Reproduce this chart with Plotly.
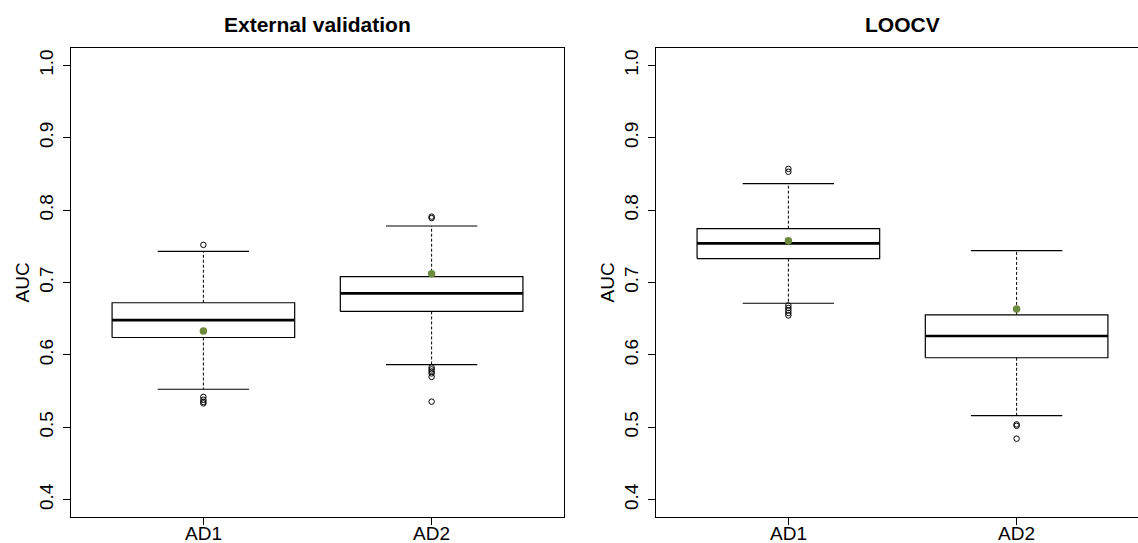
import plotly.graph_objects as go

# ---------------- data ----------------
categories = ["AD1", "AD2"]
panel_titles = ["External validation", "LOOCV"]
y_ticks = [0.4, 0.5, 0.6, 0.7, 0.8, 0.9, 1.0]
y_tick_labels = ["0.4", "0.5", "0.6", "0.7", "0.8", "0.9", "1.0"]

# External validation
ext_q1 = [0.624, 0.660]
ext_median = [0.648, 0.685]
ext_q3 = [0.672, 0.708]
ext_lower = [0.5525, 0.5865]
ext_upper = [0.743, 0.778]
ext_mean = [0.633, 0.712]
ext_outliers_ad1 = [0.752, 0.542, 0.538, 0.535, 0.533]
ext_outliers_ad2 = [0.791, 0.789, 0.5826, 0.5799, 0.5771, 0.5744, 0.5696, 0.5354]

# LOOCV
loo_q1 = [0.733, 0.596]
loo_median = [0.754, 0.626]
loo_q3 = [0.7744, 0.6552]
loo_lower = [0.6713, 0.516]
loo_upper = [0.8366, 0.744]
loo_mean = [0.7578, 0.6634]
loo_outliers_ad1 = [0.857, 0.853, 0.6683, 0.6648, 0.6614, 0.6579, 0.6545]
loo_outliers_ad2 = [0.504, 0.502, 0.4842]

panels = [
    dict(q1=ext_q1, med=ext_median, q3=ext_q3, lo=ext_lower, hi=ext_upper,
         mean=ext_mean, out=[ext_outliers_ad1, ext_outliers_ad2]),
    dict(q1=loo_q1, med=loo_median, q3=loo_q3, lo=loo_lower, hi=loo_upper,
         mean=loo_mean, out=[loo_outliers_ad1, loo_outliers_ad2]),
]

# ---------------- styling ----------------
W, H = 1138, 543
FONT = "Liberation Sans, Arial, Helvetica, sans-serif"
MEAN_COLOR = "#6E8B3D"
BOX_HALF = 0.4
CAP_HALF = 0.2

fig = go.Figure()

for p, panel in enumerate(panels):
    xa = "x" if p == 0 else "x2"
    ya = "y" if p == 0 else "y2"
    for i, cat in enumerate(categories):
        xc = i + 1
        # whiskers (dashed)
        fig.add_trace(go.Scatter(
            x=[xc, xc, None, xc, xc],
            y=[panel["q3"][i], panel["hi"][i], None, panel["q1"][i], panel["lo"][i]],
            mode="lines", line=dict(color="black", width=1, dash="3px,2px"),
            xaxis=xa, yaxis=ya, showlegend=False, hoverinfo="skip"))
        # caps
        fig.add_trace(go.Scatter(
            x=[xc - CAP_HALF, xc + CAP_HALF, None, xc - CAP_HALF, xc + CAP_HALF],
            y=[panel["hi"][i], panel["hi"][i], None, panel["lo"][i], panel["lo"][i]],
            mode="lines", line=dict(color="black", width=1.1),
            xaxis=xa, yaxis=ya, showlegend=False, hoverinfo="skip"))
        # box
        fig.add_trace(go.Scatter(
            x=[xc - BOX_HALF, xc + BOX_HALF, xc + BOX_HALF, xc - BOX_HALF, xc - BOX_HALF],
            y=[panel["q1"][i], panel["q1"][i], panel["q3"][i], panel["q3"][i], panel["q1"][i]],
            mode="lines", line=dict(color="black", width=1.2),
            xaxis=xa, yaxis=ya, showlegend=False, hoverinfo="skip"))
        # median
        fig.add_trace(go.Scatter(
            x=[xc - BOX_HALF, xc + BOX_HALF],
            y=[panel["med"][i], panel["med"][i]],
            mode="lines", line=dict(color="black", width=2.6),
            xaxis=xa, yaxis=ya, showlegend=False, hoverinfo="skip"))
        # outliers
        outs = panel["out"][i]
        fig.add_trace(go.Scatter(
            x=[xc] * len(outs), y=outs, mode="markers",
            marker=dict(symbol="circle-open", size=5.5, color="black",
                        line=dict(width=1, color="black")),
            xaxis=xa, yaxis=ya, showlegend=False, hoverinfo="skip"))
        # category label (as text just under the axis)
        fig.add_annotation(text=cat, x=xc, xref=xa, y=1 - 522 / H, yref="paper",
                           showarrow=False, xanchor="center", yanchor="top",
                           borderpad=0,
                           font=dict(family=FONT, size=19, color="black"))
    # means
    fig.add_trace(go.Scatter(
        x=[1, 2], y=panel["mean"], mode="markers",
        marker=dict(symbol="circle", size=7.5, color=MEAN_COLOR),
        xaxis=xa, yaxis=ya, showlegend=False, hoverinfo="skip"))

# domains (pixel-derived)
left_dom = [71 / W, 564 / W]
right_dom = [656 / W, 1.0]
y_dom = [1 - 517 / H, 1 - 48 / H]
px_per_unit = (564 - 71) / 2.16
right_hi = 0.42 + (W - 656) / px_per_unit

common_x = dict(
    tickmode="array", tickvals=[1, 2], ticktext=categories, showticklabels=False,
    ticks="outside", ticklen=7, tickcolor="black", tickwidth=1,
    showline=True, linecolor="black", linewidth=1, mirror=True,
    showgrid=False, zeroline=False, automargin=False,
)
common_y = dict(
    tickmode="array", tickvals=y_ticks, ticktext=y_tick_labels,
    range=[0.376, 1.024], automargin=False,
    ticks="outside", ticklen=7, tickcolor="black", tickwidth=1,
    showline=True, linecolor="black", linewidth=1,
    showgrid=False, zeroline=False, tickangle=-90, ticklabelstandoff=2,
    tickfont=dict(family=FONT, size=19, color="black"),
)

fig.update_layout(
    width=W, height=H,
    margin=dict(l=0, r=0, t=0, b=0, pad=0),
    paper_bgcolor="white", plot_bgcolor="white",
    xaxis=dict(domain=left_dom, range=[0.42, 2.58], anchor="y", **common_x),
    yaxis=dict(domain=y_dom, anchor="x", mirror=True, **common_y),
    xaxis2=dict(domain=right_dom, range=[0.42, right_hi], anchor="y2", **common_x),
    yaxis2=dict(domain=y_dom, anchor="x2", mirror=False, **common_y),
    showlegend=False,
)

# panel titles
title_centers = [(71 + 564) / 2, (656 + 1149) / 2]
for t, cx in zip(panel_titles, title_centers):
    fig.add_annotation(text="<b>%s</b>" % t, x=cx / W, y=1 - 24 / H,
                       xref="paper", yref="paper", showarrow=False,
                       xanchor="center", yanchor="middle",
                       font=dict(family=FONT, size=21, color="black"))

# y axis labels
for cx in [22, 607]:
    fig.add_annotation(text="AUC", x=cx / W, y=1 - 282.5 / H,
                       xref="paper", yref="paper", showarrow=False,
                       xanchor="center", yanchor="middle", textangle=-90,
                       font=dict(family=FONT, size=19, color="black"))

fig.write_html(
    "out.html",
    config={"displayModeBar": False, "staticPlot": True},
    post_script="document.body.style.margin='0';document.body.style.padding='0';"
                "document.body.style.overflow='hidden';",
)
